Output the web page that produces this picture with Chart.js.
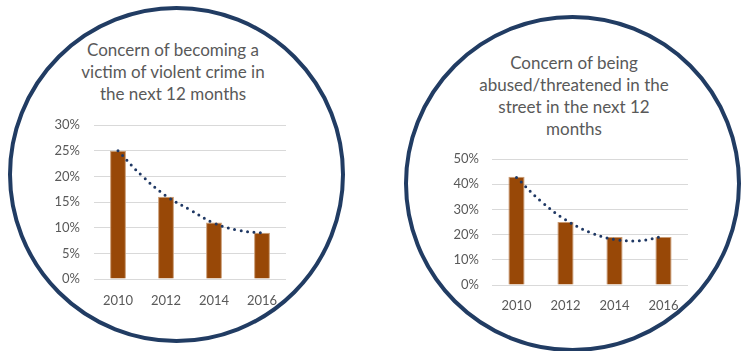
<!DOCTYPE html>
<html>
<head>
<meta charset="utf-8">
<script src="https://cdn.jsdelivr.net/npm/chart.js@4/dist/chart.umd.min.js"></script>
<style>
  html, body { margin: 0; padding: 0; background: #fff; }
  body { position: relative; width: 742px; height: 351px; overflow: hidden; }
  .ring {
    position: absolute;
    box-sizing: border-box;
    width: 337px;
    height: 337px;
    border: 4px solid #213c63;
    border-radius: 50%;
  }
  .title {
    position: absolute;
    width: 240px;
    text-align: center;
    font-family: Lato, "Open Sans", sans-serif;
    font-size: 17px;
    line-height: 22px;
    color: #595959;
  }
  canvas { position: absolute; top: 0; }
</style>
</head>
<body>
<div class="ring" style="left:8px; top:6px;"></div>
<div class="ring" style="left:404px; top:15px;"></div>
<div class="title" id="violentTitle" style="left:53px; top:39px;"></div>
<div class="title" id="streetTitle" style="left:454px; top:52px;"></div>
<canvas id="violent" width="258" height="330" style="left:44px;"></canvas>
<canvas id="street" width="265" height="330" style="left:442px;"></canvas>

<script>
// survey years and percentages
const years = ["2010", "2012", "2014", "2016"];
const violentCrime = [25, 16, 11, 9];
const abusedInStreet = [43, 25, 19, 19];

// polynomial trend lines, sampled every half step between years
const trendSteps = [0, 0.5, 1, 1.5, 2, 2.5, 3];
const violentCrimeTrend = [25.0, 20.1, 16.2, 13.5, 10.9, 9.5, 9.0];
const abusedInStreetTrend = [42.7, 33.2, 25.9, 20.9, 18.1, 17.6, 19.3];

// y axis ranges (percent)
const violentAxis = { max: 30, step: 5 };
const streetAxis = { max: 50, step: 10 };

const violentTitle = ["Concern of becoming a", "victim of violent crime in", "the next 12 months"];
const streetTitle = ["Concern of being", "abused/threatened in the", "street in the next 12", "months"];

const FONT = "Lato, 'Open Sans', sans-serif";
const GREY = "#595959";

function setTitle(id, lines) {
  const el = document.getElementById(id);
  lines.forEach((line) => {
    const row = document.createElement("div");
    row.textContent = line;
    el.appendChild(row);
  });
}

function drawChart(id, values, trend, axis, pad) {
  const ctx = document.getElementById(id).getContext("2d");
  return new Chart(ctx, {
    data: {
      labels: years,
      datasets: [
        {
          type: "line",
          data: trendSteps.map((x, i) => ({ x: x, y: trend[i] })),
          xAxisID: "trendX",
          yAxisID: "y",
          borderColor: "#1f3864",
          borderWidth: 3,
          borderDash: [0, 6.5],
          borderCapStyle: "round",
          tension: 0.4,
          pointRadius: 0,
          fill: false,
          order: 0,
        },
        {
          type: "bar",
          data: values,
          xAxisID: "x",
          yAxisID: "y",
          grouped: false,
          backgroundColor: "#984807",
          borderColor: "#c99a72",
          borderWidth: { left: 1, right: 1, top: 1, bottom: 0 },
          categoryPercentage: 1,
          barPercentage: 0.33,
          order: 1,
        },
      ],
    },
    options: {
      responsive: false,
      animation: false,
      devicePixelRatio: 1,
      layout: { padding: pad },
      plugins: {
        legend: { display: false },
        tooltip: { enabled: false },
      },
      scales: {
        x: {
          type: "category",
          grid: { display: false },
          border: { display: false },
          ticks: { color: GREY, font: { family: FONT, size: 13 }, padding: pad.xPad },
          afterFit: (scale) => { scale.height = 40; },
        },
        trendX: {
          type: "linear",
          display: false,
          min: -0.5,
          max: 3.5,
        },
        y: {
          min: 0,
          max: axis.max,
          grid: { color: "#d9d9d9", drawTicks: false },
          border: { display: false },
          ticks: {
            stepSize: axis.step,
            color: GREY,
            font: { family: FONT, size: 13 },
            padding: pad.yPad,
            callback: (v) => v + "%",
          },
          afterFit: (scale) => { scale.width = 50; },
        },
      },
    },
  });
}

setTitle("violentTitle", violentTitle);
setTitle("streetTitle", streetTitle);

drawChart("violent", violentCrime, violentCrimeTrend, violentAxis,
  { top: 125, right: 16, bottom: 11, left: 0, xPad: 6, yPad: 14 });
drawChart("street", abusedInStreet, abusedInStreetTrend, streetAxis,
  { top: 159, right: 19, bottom: 5, left: 0, xPad: 5, yPad: 13 });
</script>
</body>
</html>
